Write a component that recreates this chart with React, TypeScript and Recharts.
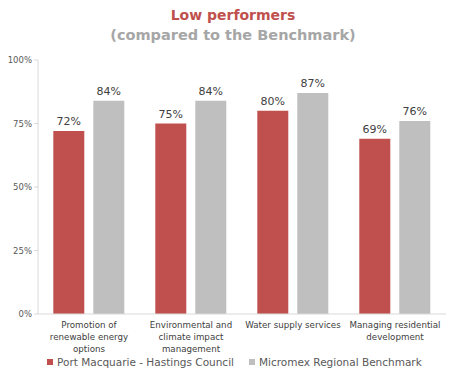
import React from 'react';
import { BarChart, Bar, XAxis, YAxis, CartesianGrid, LabelList, Legend } from 'recharts';

const categories = [
  'Promotion of\nrenewable energy\noptions',
  'Environmental and\nclimate impact\nmanagement',
  'Water supply services',
  'Managing residential\ndevelopment',
];
const councilValues = [72, 75, 80, 69];
const benchmarkValues = [84, 84, 87, 76];
const yTicks = [0, 25, 50, 75, 100];

const RED = '#c0504d';
const GREY = '#bfbfbf';
const FONT = '"DejaVu Sans", sans-serif';

const data = categories.map((name, i) => ({
  name,
  council: councilValues[i],
  benchmark: benchmarkValues[i],
}));

function CategoryTick({ x, y, payload }: any) {
  const lines = String(payload.value).split('\n');
  return (
    <text x={x} y={y} textAnchor="middle" fontSize={8.7} fill="#404040" fontFamily={FONT}>
      {lines.map((line, i) => (
        <tspan key={i} x={x} dy={i === 0 ? 6 : 12}>
          {line}
        </tspan>
      ))}
    </text>
  );
}

function LegendContent() {
  const items = [
    { label: 'Port Macquarie - Hastings Council', color: RED, x: 47 },
    { label: 'Micromex Regional Benchmark', color: GREY, x: 249 },
  ];
  return (
    <div style={{ position: 'relative', height: 16 }}>
      {items.map((it) => (
        <div
          key={it.label}
          style={{
            position: 'absolute',
            left: it.x,
            top: 0,
            display: 'flex',
            alignItems: 'center',
            fontSize: 10.5,
            color: '#595959',
            fontFamily: FONT,
            whiteSpace: 'nowrap',
          }}
        >
          <span style={{ width: 6, height: 6, background: it.color, marginRight: 4, display: 'inline-block' }} />
          {it.label}
        </div>
      ))}
    </div>
  );
}

export default function App() {
  return (
    <div style={{ position: 'absolute', left: 0, top: 0, width: 466, height: 379, background: '#fff' }}>
      <div
        style={{
          position: 'absolute',
          top: 5,
          left: 0,
          width: 466,
          textAlign: 'center',
          fontFamily: FONT,
          fontWeight: 'bold',
          lineHeight: '20px',
        }}
      >
        <div style={{ color: RED, fontSize: 14 }}>Low performers</div>
        <div style={{ color: '#a6a6a6', fontSize: 14.5 }}>(compared to the Benchmark)</div>
      </div>
      <BarChart
        width={466}
        height={379}
        data={data}
        margin={{ top: 60, right: 20, left: 0, bottom: 7 }}
        barCategoryGap="15%"
        barGap={9}
      >
        <CartesianGrid horizontal={false} vertical={false} />
        <XAxis
          dataKey="name"
          interval={0}
          tick={<CategoryTick />}
          tickLine={false}
          axisLine={{ stroke: '#d9d9d9' }}
          height={42}
        />
        <YAxis
          domain={[0, 100]}
          ticks={yTicks}
          tickFormatter={(v) => `${v}%`}
          tick={{ fontSize: 8.5, fill: '#595959', fontFamily: FONT }}
          tickLine={{ stroke: '#d9d9d9' }}
          tickSize={4}
          axisLine={{ stroke: '#d9d9d9' }}
          width={38}
        />
        <Legend content={<LegendContent />} verticalAlign="bottom" height={16} />
        <Bar dataKey="council" fill={RED} isAnimationActive={false}>
          <LabelList
            dataKey="council"
            position="top"
            offset={6}
            formatter={(v: any) => `${v}%`}
            style={{ fontSize: 11, fill: '#404040', fontFamily: FONT }}
          />
        </Bar>
        <Bar dataKey="benchmark" fill={GREY} isAnimationActive={false}>
          <LabelList
            dataKey="benchmark"
            position="top"
            offset={6}
            formatter={(v: any) => `${v}%`}
            style={{ fontSize: 11, fill: '#404040', fontFamily: FONT }}
          />
        </Bar>
      </BarChart>
    </div>
  );
}
